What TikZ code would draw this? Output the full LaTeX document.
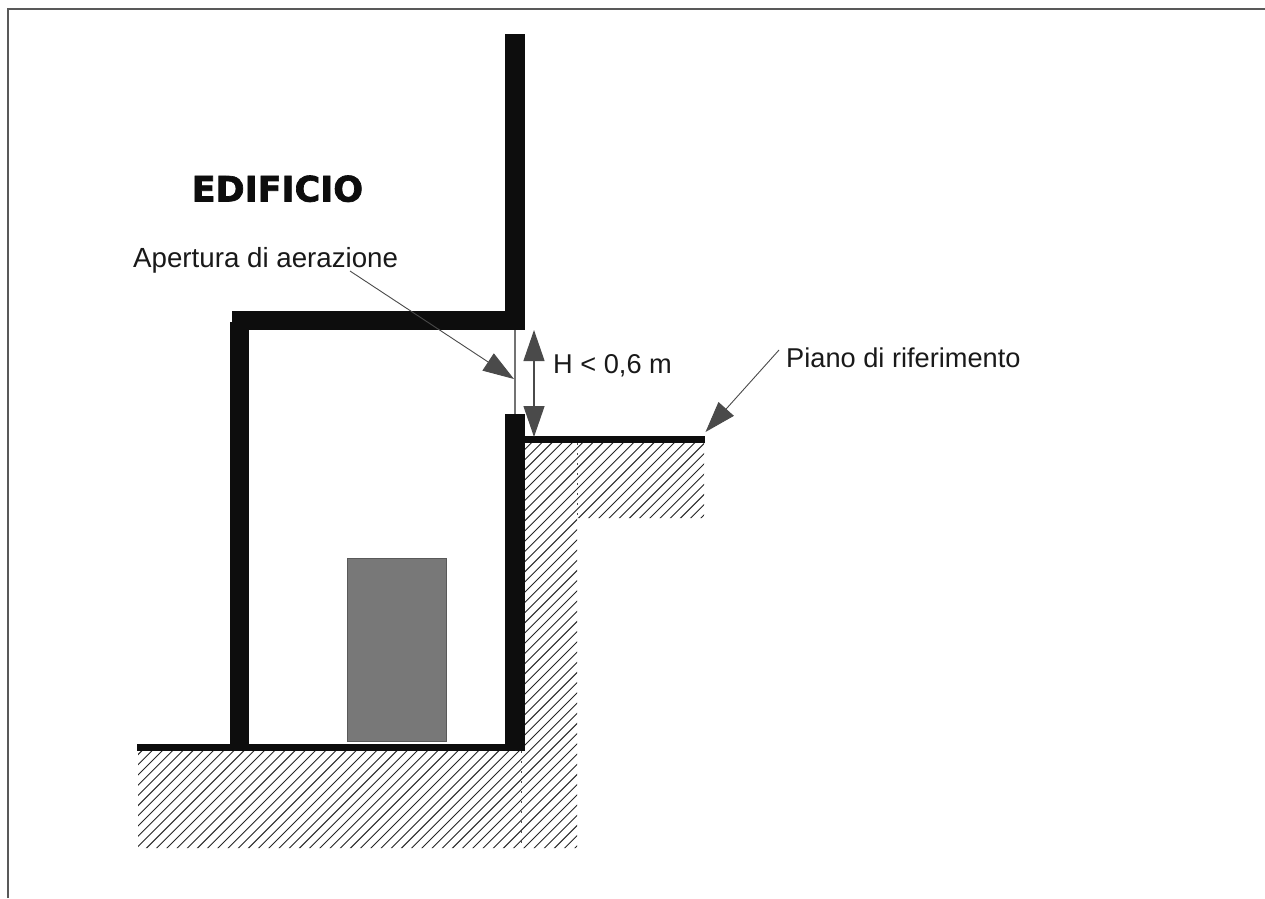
\documentclass[tikz,border=0pt]{standalone}
\usepackage{fontspec}
\setmainfont{Liberation Sans}
\newfontfamily\heavyfont[BoldFeatures={FakeBold=2}]{DejaVu Sans}
\usetikzlibrary{arrows.meta}
\definecolor{wallc}{HTML}{0D0D0D}
\definecolor{tipc}{HTML}{4A4A4A}
\tikzset{
  wall/.style={fill=wallc,draw=none},
  hatchline/.style={draw=black!85,line width=0.9pt},
  lead/.style={draw=tipc,line width=0.9pt,-{Triangle[length=31pt,width=20.5pt,fill=tipc]}},
  dimline/.style={draw=tipc,line width=1.2pt,{Triangle[length=31pt,width=21pt,fill=tipc]}-{Triangle[length=31pt,width=21pt,fill=tipc]}},
  lbl/.style={font=\fontsize{27.2}{30}\selectfont,text=black!90,inner sep=0pt,anchor=base west},
}
\begin{document}
\begin{tikzpicture}[x=1pt,y=-1pt]
\useasboundingbox (0,0) rectangle (1265,898);
\fill[white] (0,0) rectangle (1265,898);
\draw[black!65,line width=1.2pt] (8,898) -- (8,9) -- (1265,9);
% hatching
\begin{scope}
\clip (138,751) -- (525,751) -- (525,443) -- (704,443) -- (704,518) -- (577,518) -- (577,848) -- (138,848) -- cycle;
\foreach \c in {-14,...,42} {
  \draw[hatchline] ({165+\c*10.2},{850}) -- ++(900,-900);
}
\end{scope}
% seams
\draw[black!70,line width=0.7pt,dash pattern=on 2pt off 8pt] (521,751) -- (521,848);
\draw[black!70,line width=0.7pt,dash pattern=on 2pt off 8pt] (577,443) -- (577,518);
% walls
\fill[wall] (505,34) rectangle (525,330);
\fill[wall] (232,311) rectangle (525,330);
\fill[wall] (230,322) rectangle (249,751);
\fill[wall] (137,743.5) rectangle (525,751);
\fill[wall] (505,414) rectangle (525,751);
\fill[wall] (525,436) rectangle (705,443);
% unit
\filldraw[fill=black!53,draw=black!65,line width=0.8pt] (347.5,558) rectangle (446,741);
% opening
\draw[black!55,line width=2pt] (515,330) -- (515,414);
% labels
\node[font=\heavyfont\bfseries\fontsize{35}{38}\selectfont,inner sep=0pt,anchor=base west,text=wallc] (edificio) at (191.5,201.5) {EDIFICIO};
\node[lbl,font=\fontsize{27.7}{30}\selectfont] (apertura) at (133,267) {Apertura di aerazione};
\node[lbl] (altezza) at (553,373) {H < 0,6 m};
\node[lbl] (piano) at (786,367) {Piano di riferimento};
% connectors
\coordinate (aperturastart) at (350,271);
\coordinate (aperturatip) at (514,379);
\coordinate (pianostart) at (779,350);
\coordinate (pianotip) at (705.5,432);
\coordinate (dimtop) at (534,330);
\coordinate (dimbot) at (534,437);
\draw[lead] (aperturastart) -- (aperturatip);
\draw[lead] (pianostart) -- (pianotip);
\draw[dimline] (dimtop) -- (dimbot);
\end{tikzpicture}
\end{document}
